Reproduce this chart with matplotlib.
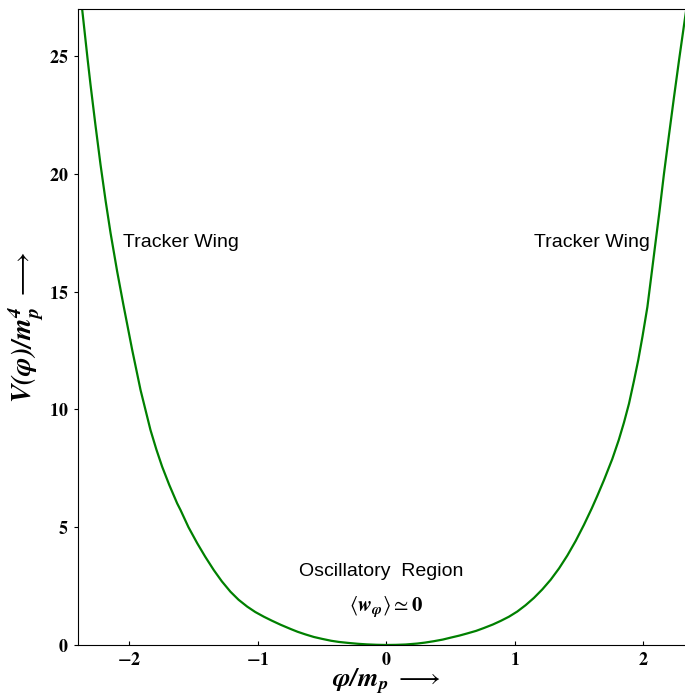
import matplotlib
matplotlib.use("Agg")
import matplotlib.pyplot as plt

plt.rcParams['mathtext.fontset'] = 'stix'

# curve (phi / m_p, V / m_p^4)
phi = [-2.38, -2.350, -2.325, -2.303, -2.265, -2.225, -2.185, -2.147, -2.095,
       -2.047, -1.978, -1.913, -1.836, -1.790, -1.745, -1.690, -1.628, -1.602,
       -1.540, -1.472, -1.410, -1.343, -1.280, -1.213, -1.150, -1.083, -1.020,
       -0.953, -0.890, -0.823, -0.745, -0.690, -0.630, -0.564, -0.500, -0.430,
       -0.370, -0.300, -0.220, -0.150, -0.075, 0.0,
       0.075, 0.15, 0.24, 0.30, 0.37, 0.44, 0.50, 0.57, 0.63, 0.70, 0.76, 0.83,
       0.89, 0.955, 1.020, 1.085, 1.150, 1.215, 1.280, 1.345, 1.410, 1.475,
       1.539, 1.600, 1.643, 1.695, 1.760, 1.810, 1.851, 1.890, 1.928, 1.962,
       1.995, 2.033, 2.062, 2.092, 2.127, 2.162, 2.200, 2.240, 2.280, 2.323,
       2.350, 2.38]
V = [27.6, 26.1, 24.85, 23.8, 22.1, 20.4, 18.85, 17.5, 15.85,
     14.45, 12.52, 10.82, 9.13, 8.3, 7.57, 6.8, 6.01, 5.73,
     5.0, 4.32, 3.75, 3.18, 2.70, 2.26, 1.92, 1.63, 1.40,
     1.20, 1.03, 0.86, 0.68, 0.56, 0.45, 0.34, 0.26, 0.18,
     0.13, 0.09, 0.05, 0.025, 0.008, 0.0,
     0.005, 0.02, 0.06, 0.10, 0.16, 0.23, 0.31, 0.40, 0.49, 0.60, 0.72, 0.87,
     1.02, 1.20, 1.42, 1.69, 2.00, 2.36, 2.77, 3.25, 3.80, 4.42,
     5.10, 5.80, 6.33, 7.0, 7.9, 8.7, 9.45, 10.25, 11.2, 12.1,
     13.1, 14.35, 15.6, 16.9, 18.4, 20.0, 21.6, 23.25, 24.85, 26.5,
     27.5, 28.7]

xticks = [-2, -1, 0, 1, 2]
yticks = [0, 5, 10, 15, 20, 25]

fig = plt.figure(figsize=(6.85, 6.96), dpi=100)
ax = fig.add_axes([0.1139, 0.0733, 0.900, 0.9138])

ax.plot(phi, V, color='#008000', lw=1.6)

ax.set_xlim(-2.4, 2.4)
ax.set_ylim(0, 27)
ax.set_xticks(xticks)
ax.set_xticklabels([r'$\mathbf{%s}$' % ('-%d' % abs(t) if t < 0 else '%d' % t) for t in xticks],
                   fontsize=13)
ax.set_yticks(yticks)
ax.set_yticklabels([r'$\mathbf{%d}$' % t for t in yticks], fontsize=13)
ax.tick_params(axis='x', direction='in', length=3, pad=4)
ax.tick_params(axis='y', direction='out', length=3, pad=4)
ax.spines['right'].set_visible(False)

ax.set_xlabel(r'$\mathbfit{\varphi/m_p}\ \longrightarrow$', fontsize=19, labelpad=-1)
ax.set_ylabel(r'$\mathbfit{V(\varphi)/m_p^4}\ \longrightarrow$', fontsize=20, labelpad=2)

txt = dict(family='Liberation Sans', fontsize=14, va='center')
ax.text(-2.046, 17.1, 'Tracker Wing', ha='left', **txt)
ax.text(1.15, 17.1, 'Tracker Wing', ha='left', **txt)
ax.text(-0.683, 3.1, 'Oscillatory  Region', ha='left', **txt)
ax.text(0.0, 1.6, r'$\langle \mathbfit{w_\varphi} \rangle \simeq \mathbf{0}$', ha='center',
        va='center', fontsize=15)

fig.savefig('out.png', dpi=100)
